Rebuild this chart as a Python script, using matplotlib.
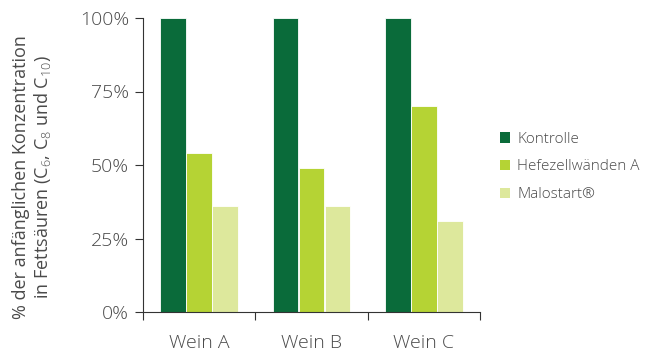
import matplotlib
matplotlib.use("Agg")
import matplotlib.pyplot as plt
import numpy as np
from matplotlib.patches import Patch

# Daten (% der anfaenglichen Konzentration)
weine = ["Wein A", "Wein B", "Wein C"]
serien = ["Kontrolle", "Hefezellwänden A", "Malostart®"]
kontrolle = [100, 100, 100]
hefezellwaende = [54, 49, 70]
malostart = [36, 36, 31]
y_ticks = [0, 25, 50, 75, 100]

farben = ["#0a6b3a", "#b5d334", "#dde89c"]
grau = "#4a4a4a"

plt.rcParams["font.family"] = ["Open Sans", "DejaVu Sans"]
plt.rcParams["font.weight"] = "light"
plt.rcParams["mathtext.fontset"] = "custom"
plt.rcParams["mathtext.rm"] = "Open Sans:light"
plt.rcParams["mathtext.it"] = "Open Sans:light"

fig = plt.figure(figsize=(6.48, 3.52), dpi=100)
ax = fig.add_axes([143 / 648, 40 / 352, 337 / 648, 294 / 352])

x = np.arange(len(weine))
breite = 0.23
for i, (werte, farbe) in enumerate(zip([kontrolle, hefezellwaende, malostart], farben)):
    ax.bar(x + (i - 1) * 0.232, werte, breite, color=farbe, edgecolor="white", linewidth=0.6)

ax.set_xlim(-0.5, 2.5)
ax.set_ylim(0, 100)
ax.set_yticks(y_ticks)
ax.set_yticklabels([f"{v}%" for v in y_ticks], fontsize=14, color=grau)
ax.set_xticks(x)
ax.set_xticklabels(weine, fontsize=14, color=grau)
ax.tick_params(axis="x", length=0, pad=16)
ax.set_xticks([-0.5, 0.5, 1.5, 2.5], minor=True)
ax.tick_params(axis="x", which="minor", length=6, width=0.8, color="#333333")
ax.tick_params(axis="y", length=6, width=0.8, color="#333333", pad=4)

for s in ["top", "right"]:
    ax.spines[s].set_visible(False)
for s in ["left", "bottom"]:
    ax.spines[s].set_linewidth(0.8)
    ax.spines[s].set_color("#333333")

ax.set_ylabel("% der anfänglichen Konzentration\nin Fettsäuren (C$_6$, C$_8$ und C$_{10}$)",
              fontsize=13, color=grau, linespacing=1.15)
ax.yaxis.set_label_coords(-0.266, 0.46)

handles = [Patch(facecolor=f, edgecolor="none") for f in farben]
fig.legend(handles, serien, loc="center left", bbox_to_anchor=(486 / 648, 1 - 167 / 352),
           frameon=False, fontsize=11, labelcolor=grau, handlelength=0.7, handleheight=0.7,
           handletextpad=0.45, labelspacing=0.85)

fig.savefig("out.png", dpi=100)
